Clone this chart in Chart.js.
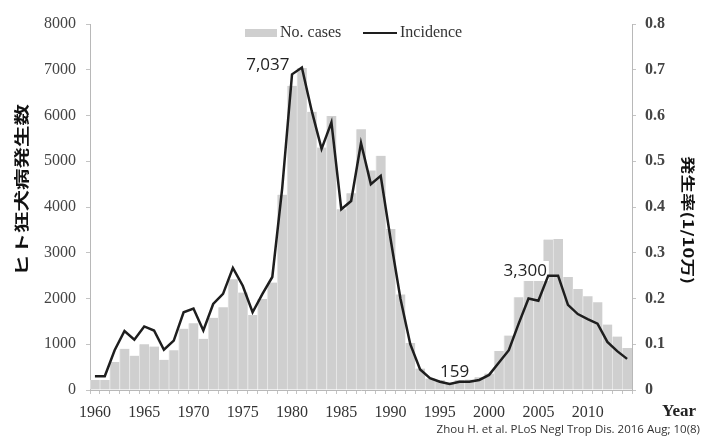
<!DOCTYPE html>
<html>
<head>
<meta charset="utf-8">
<script src="https://cdn.jsdelivr.net/npm/chart.js@4/dist/chart.umd.min.js"></script>
<style>
html,body{margin:0;padding:0;background:#fff;}
#wrap{position:relative;width:704px;height:438px;}
</style>
</head>
<body>
<div id="wrap"><canvas id="c" width="704" height="438"></canvas></div>
<script>
const years = [1960,1961,1962,1963,1964,1965,1966,1967,1968,1969,
  1970,1971,1972,1973,1974,1975,1976,1977,1978,1979,
  1980,1981,1982,1983,1984,1985,1986,1987,1988,1989,
  1990,1991,1992,1993,1994,1995,1996,1997,1998,1999,
  2000,2001,2002,2003,2004,2005,2006,2007,2008,2009,
  2010,2011,2012,2013,2014];
const cases = [220,220,610,900,750,1000,950,660,870,1340,
  1460,1120,1580,1810,2420,2130,1640,1990,2350,4270,
  6650,7037,6080,5300,5990,3950,4300,5700,4800,5120,
  3520,2090,1030,470,250,220,159,220,230,280,
  360,850,1190,2030,2650,2550,3290,3300,2470,2210,
  2050,1920,1430,1170,920];
const incidence = [0.03,0.03,0.087,0.129,0.11,0.139,0.13,0.088,0.108,0.17,
  0.178,0.13,0.188,0.21,0.267,0.228,0.17,0.21,0.247,0.44,
  0.69,0.705,0.61,0.527,0.585,0.395,0.413,0.54,0.45,0.468,
  0.33,0.2,0.1,0.045,0.026,0.018,0.013,0.018,0.018,0.022,
  0.033,0.06,0.087,0.145,0.2,0.195,0.25,0.25,0.186,0.166,
  0.155,0.145,0.105,0.085,0.068];
const caseTicks = [0,1000,2000,3000,4000,5000,6000,7000,8000];
const rateTicks = [0,0.1,0.2,0.3,0.4,0.5,0.6,0.7,0.8];
const annotations = [
  {year:1981, text:'7,037', dx:-34, y:65, bg:false},
  {year:2006, text:'3,300', dx:-23, y:271, bg:true},
  {year:1996, text:'159', dx:5, y:372, bg:false}
];

const BAR = '#cfcfcf';
const LINE = '#1e1e1e';

function drawAnnotations(chart){
  const ctx = chart.ctx;
  const meta = chart.getDatasetMeta(1);
  ctx.save();
  ctx.font = '17px "Open Sans"';
  ctx.textBaseline = 'middle';
  ctx.textAlign = 'center';
  annotations.forEach(a => {
    const idx = years.indexOf(a.year);
    const x = meta.data[idx].x + a.dx;
    if (a.bg) {
      const w = ctx.measureText(a.text).width;
      ctx.fillStyle = '#fff';
      ctx.fillRect(x - w/2 - 2, a.y - 10, w + 4, 20);
    }
    ctx.fillStyle = '#222';
    ctx.fillText(a.text, x, a.y);
  });
  ctx.restore();
}

const overlay = {
  id:'overlay',
  beforeDatasetDraw(chart, args){
    if (args.index === 0) drawAnnotations(chart);
  },
  afterDraw(chart){
    const ctx = chart.ctx;
    ctx.save();
    // legend
    ctx.fillStyle = BAR;
    ctx.fillRect(245, 29, 32, 8);
    ctx.strokeStyle = LINE; ctx.lineWidth = 2;
    ctx.beginPath(); ctx.moveTo(363, 33); ctx.lineTo(397, 33); ctx.stroke();
    ctx.fillStyle = '#333';
    ctx.font = '16px "Liberation Serif"';
    ctx.textBaseline = 'middle'; ctx.textAlign = 'left';
    ctx.fillText('No. cases', 280, 33);
    ctx.fillText('Incidence', 400, 33);
    // axis titles
    ctx.fillStyle = '#111';
    ctx.save();
    ctx.translate(21, 190); ctx.rotate(-Math.PI/2); ctx.scale(1, 0.7);
    ctx.font = 'bold 21.5px "Noto Sans CJK JP"';
    ctx.textAlign = 'center'; ctx.textBaseline = 'middle';
    ctx.fillText('ヒト狂犬病発生数', 0, 0);
    ctx.restore();
    ctx.save();
    ctx.translate(688, 220); ctx.rotate(Math.PI/2); ctx.scale(1, 0.75);
    ctx.font = 'bold 18.5px "Noto Sans CJK JP"';
    ctx.textAlign = 'center'; ctx.textBaseline = 'middle';
    ctx.fillText('発生率(1/10万)', 0, 0);
    ctx.restore();
    // Year label
    ctx.font = 'bold 17px "Liberation Serif"';
    ctx.textAlign = 'right'; ctx.textBaseline = 'middle';
    ctx.fillStyle = '#222';
    ctx.fillText('Year', 696, 412);
    // citation
    ctx.font = '11.5px "Open Sans"';
    ctx.fillStyle = '#333';
    ctx.fillText('Zhou H. et al. PLoS Negl Trop Dis. 2016 Aug; 10(8)', 700, 430);
    ctx.restore();
  }
};

new Chart(document.getElementById('c'), {
  type:'bar',
  data:{
    labels: years,
    datasets:[
      {type:'line', label:'Incidence', data:incidence, yAxisID:'y1',
       borderColor:LINE, borderWidth:2.5, pointRadius:0, tension:0, fill:false, order:0},
      {type:'bar', label:'No. cases', data:cases, yAxisID:'y',
       backgroundColor:BAR, borderColor:'#e6e6e6',
       borderWidth:{left:1,right:0,top:0,bottom:0}, borderSkipped:false,
       barPercentage:1, categoryPercentage:1, order:1}
    ]
  },
  options:{
    responsive:false, animation:false,
    layout:{padding:{top:24,left:0,right:0,bottom:0}},
    plugins:{legend:{display:false}, tooltip:{enabled:false}},
    scales:{
      x:{
        offset:true,
        grid:{display:true, drawOnChartArea:false, drawTicks:true, tickLength:4, color:'#c4c4c4', offset:true},
        border:{display:true, color:'#b8b8b8'},
        ticks:{autoSkip:false, maxRotation:0, minRotation:0, padding:9, color:'#333',
          font:{family:'"Liberation Serif", serif', size:16},
          callback:function(v, i){ const y = years[i]; return (y % 5 === 0) ? String(y) : ''; }},
        afterFit(s){ s.height = 48; }
      },
      y:{
        position:'left', min:0, max:8000,
        afterBuildTicks(s){ s.ticks = caseTicks.map(v => ({value:v})); },
        grid:{display:true, drawOnChartArea:false, tickLength:4, color:'#c4c4c4'},
        border:{display:true, color:'#b8b8b8'},
        ticks:{padding:10, color:'#444', font:{family:'"Liberation Serif", serif', size:16},
          callback:function(v){ return String(v); }},
        afterFit(s){ s.width = 90; }
      },
      y1:{
        position:'right', min:0, max:0.8,
        afterBuildTicks(s){ s.ticks = rateTicks.map(v => ({value:v})); },
        grid:{display:true, drawOnChartArea:false, tickLength:4, color:'#c4c4c4'},
        border:{display:true, color:'#b8b8b8'},
        ticks:{padding:9, color:'#444', font:{family:'"Liberation Serif", serif', size:16, weight:'bold'},
          callback:function(v){ return v === 0 ? '0' : String(Math.round(v*10)/10); }},
        afterFit(s){ s.width = 72; }
      }
    }
  },
  plugins:[overlay]
});
</script>
</body>
</html>
